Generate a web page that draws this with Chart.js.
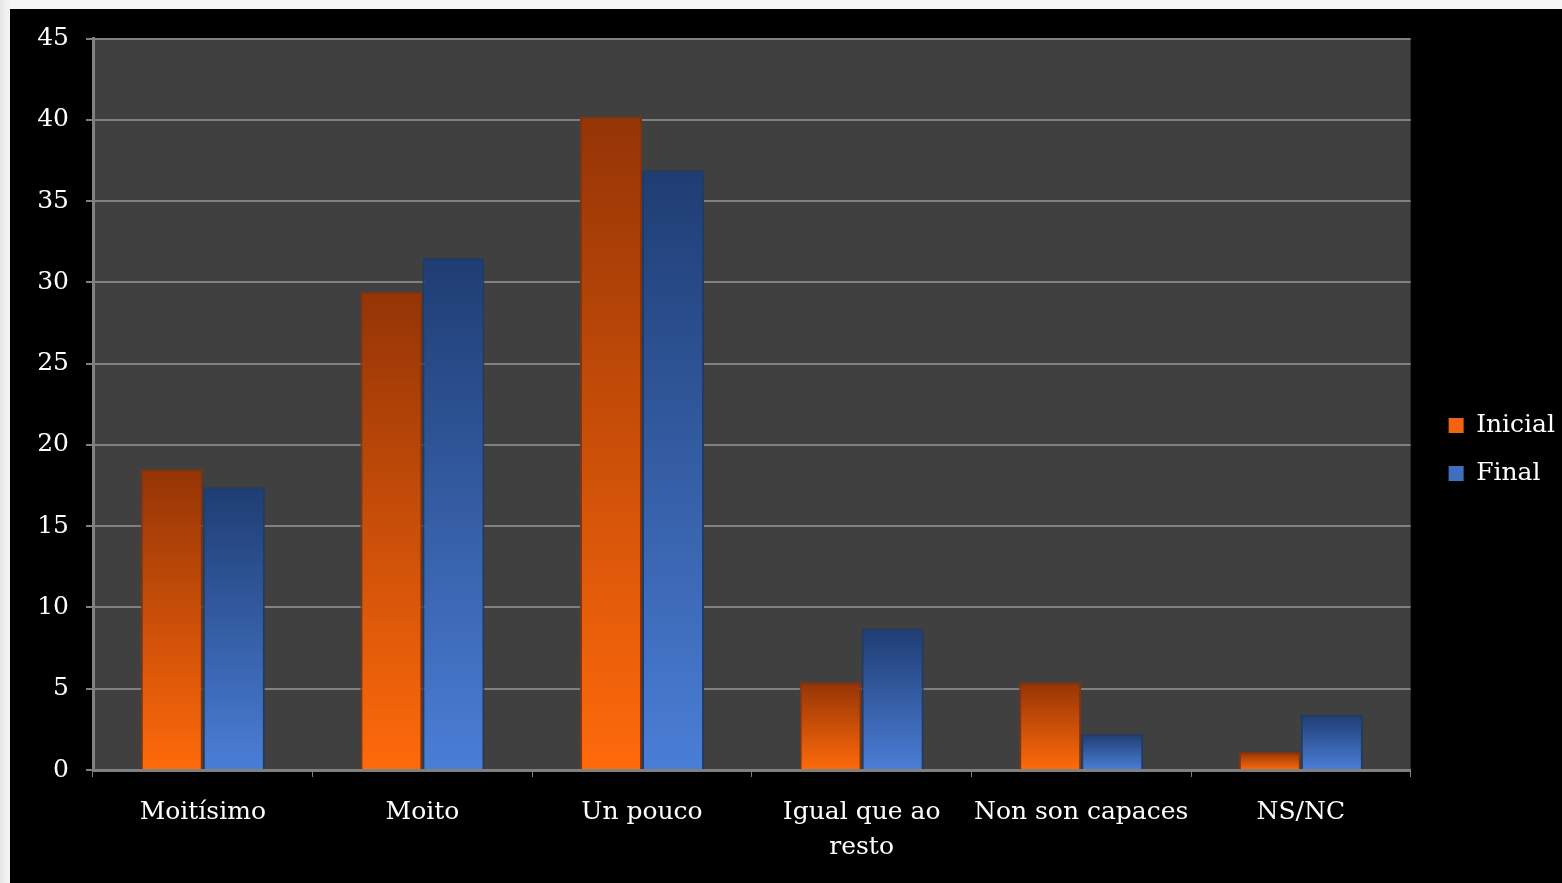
<!DOCTYPE html>
<html>
<head>
<meta charset="utf-8">
<script src="https://cdn.jsdelivr.net/npm/chart.js@4"></script>
<style>
  html, body { margin: 0; padding: 0; background: #f3f3f3; }
  body { width: 1562px; height: 883px; overflow: hidden; position: relative;
         background: linear-gradient(to right, #e6e6e6 0, #f6f6f6 10px); }
  #wrap { position: absolute; left: 10px; top: 9px; width: 1552px; height: 874px; background: #000; }
</style>
</head>
<body>
<div id="wrap"><canvas id="chart" width="1552" height="874"></canvas></div>
<script>
const categories = ['Moitísimo', 'Moito', 'Un pouco', ['Igual que ao', 'resto'], 'Non son capaces', 'NS/NC'];
const inicialValues = [18.5, 29.4, 40.2, 5.4, 5.4, 1.1];
const finalValues = [17.4, 31.5, 36.9, 8.7, 2.2, 3.4];
const yTicks = [0, 5, 10, 15, 20, 25, 30, 35, 40, 45];

const FONT = '"DejaVu Serif", serif';

// each bar gets its own top-to-bottom gradient, dark at the top
function barGradient(top, bottom) {
  return (ctx) => {
    const chart = ctx.chart;
    if (!chart.chartArea || ctx.type !== 'data') return bottom;
    const y = chart.scales.y;
    const yTop = y.getPixelForValue(ctx.raw);
    const yBot = y.getPixelForValue(0);
    const g = chart.ctx.createLinearGradient(0, yTop, 0, yBot);
    g.addColorStop(0, top);
    g.addColorStop(1, bottom);
    return g;
  };
}

const plotBg = {
  id: 'plotBg',
  beforeDraw(chart) {
    const { ctx, chartArea: a } = chart;
    ctx.save();
    ctx.fillStyle = '#404040';
    ctx.fillRect(a.left, a.top, a.right - a.left, a.bottom - a.top);
    ctx.restore();
  },
  afterLayout(chart) {
    // legend sits a bit above the middle in the original
    if (chart.legend) {
      chart.legend.top -= 11;
      chart.legend.bottom -= 11;
      chart.legend.left += 15;
      chart.legend.right += 15;
    }
  }
};

new Chart(document.getElementById('chart'), {
  type: 'bar',
  data: {
    labels: categories,
    datasets: [
      {
        label: 'Inicial',
        data: inicialValues,
        backgroundColor: barGradient('#953406', '#ff6a0b'),
        borderColor: '#7e3410',
        borderWidth: 2
      },
      {
        label: 'Final',
        data: finalValues,
        backgroundColor: barGradient('#1f3d73', '#4a7ed6'),
        borderColor: '#1f3b66',
        borderWidth: 2
      }
    ]
  },
  options: {
    responsive: false,
    animation: false,
    layout: { padding: { top: 29, right: 12, bottom: 0, left: 0 } },
    datasets: { bar: { barPercentage: 1, categoryPercentage: 0.565 } },
    plugins: {
      tooltip: { enabled: false },
      legend: {
        position: 'right',
        labels: {
          color: '#ffffff',
          font: { family: FONT, size: 25 },
          boxWidth: 15,
          boxHeight: 15,
          padding: 23,
          generateLabels(chart) {
            const fills = ['#f26410', '#3f70c0'];
            return chart.data.datasets.map((ds, i) => ({
              text: ds.label,
              fillStyle: fills[i],
              strokeStyle: fills[i],
              lineWidth: 0,
              fontColor: '#ffffff',
              datasetIndex: i
            }));
          }
        }
      }
    },
    scales: {
      x: {
        grid: { display: true, drawOnChartArea: false, color: '#808080', tickLength: 7, offset: true },
        border: { color: '#808080', width: 3 },
        ticks: {
          color: '#ffffff',
          font: { family: FONT, size: 25, lineHeight: 1.4 },
          padding: 18,
          maxRotation: 0,
          autoSkip: false
        },
        afterFit(scale) { scale.height = 113; }
      },
      y: {
        min: 0,
        max: 45,
        afterBuildTicks(scale) { scale.ticks = yTicks.map(v => ({ value: v })); },
        grid: { color: '#808080', lineWidth: 2, tickLength: 7 },
        border: { color: '#808080', width: 3 },
        ticks: {
          color: '#ffffff',
          font: { family: FONT, size: 25, lineHeight: 1 },
          padding: 17
        },
        afterFit(scale) { scale.width = 83; }
      }
    }
  },
  plugins: [plotBg]
});
</script>
</body>
</html>
